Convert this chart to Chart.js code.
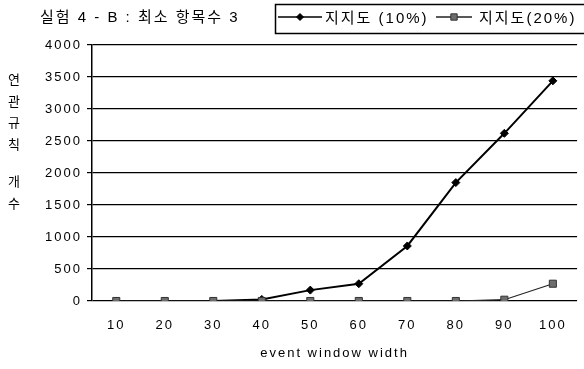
<!DOCTYPE html>
<html>
<head>
<meta charset="utf-8">
<script src="https://cdn.jsdelivr.net/npm/chart.js@4.4.1/dist/chart.umd.min.js"></script>
<style>
  html, body { margin: 0; padding: 0; background: #fff; }
  #wrap { width: 584px; height: 369px; }
</style>
</head>
<body>
<div id="wrap"><canvas id="c" width="584" height="369"></canvas></div>
<script>
// event window width categories
const windowWidths = ['10', '20', '30', '40', '50', '60', '70', '80', '90', '100'];
// number of association rules for each minimum support
const support10 = [0, 0, 0, 25, 170, 270, 860, 1850, 2620, 3440];
const support20 = [0, 0, 0, 0, 0, 0, 0, 0, 20, 270];
const seriesNames = ['지지도 (10%)', '지지도(20%)'];
const yTicks = [0, 500, 1000, 1500, 2000, 2500, 3000, 3500, 4000];
const chartTitle = '실험 4 - B : 최소 항목수 3';
const yTitleChars = ['연', '관', '규', '칙', '', '개', '수'];
const xTitle = 'event window width';

const FONT = '"Liberation Sans", "Noto Sans CJK KR", Arial, sans-serif';
const SPACING = '2px';

// wide glyph spacing for every label on the canvas
const spacingPlugin = {
  id: 'spacing',
  beforeUpdate(chart) { chart.ctx.letterSpacing = SPACING; },
  beforeDraw(chart) { chart.ctx.letterSpacing = SPACING; }
};

// title, boxed legend and stacked vertical y title
const decorPlugin = {
  id: 'decor',
  afterDraw(chart) {
    const ctx = chart.ctx;
    ctx.save();
    ctx.letterSpacing = SPACING;
    ctx.fillStyle = '#000';

    // chart title
    ctx.font = '15px ' + FONT;
    ctx.textAlign = 'left';
    ctx.textBaseline = 'middle';
    ctx.fillText(chartTitle, 40, 18);

    // legend box
    ctx.strokeStyle = '#000';
    ctx.lineWidth = 1.5;
    ctx.strokeRect(275.5, 4.5, 320, 29);

    const ds = chart.data.datasets;
    const items = [
      { x0: 278, x1: 322, tx: 325, d: ds[0] },
      { x0: 436, x1: 472, tx: 479, d: ds[1] }
    ];
    items.forEach(it => {
      const ly = 17;
      ctx.strokeStyle = it.d.borderColor;
      ctx.lineWidth = 1.5;
      ctx.beginPath();
      ctx.moveTo(it.x0, ly);
      ctx.lineTo(it.x1, ly);
      ctx.stroke();
      ctx.fillStyle = it.d.pointBackgroundColor;
      ctx.strokeStyle = it.d.pointBorderColor;
      ctx.lineWidth = 1;
      Chart.helpers.drawPoint(ctx, {
        pointStyle: it.d.pointStyle,
        radius: it.d.pointRadius - 0.5,
        rotation: 0,
        borderWidth: 1
      }, (it.x0 + it.x1) / 2, ly);
      ctx.fillStyle = '#000';
      ctx.font = '15px ' + FONT;
      ctx.textAlign = 'left';
      ctx.textBaseline = 'middle';
      ctx.fillText(it.d.label, it.tx, 19);
    });

    // stacked y-axis title
    ctx.font = '13px ' + FONT;
    ctx.textAlign = 'center';
    ctx.textBaseline = 'middle';
    ctx.letterSpacing = '0px';
    const ys = [80, 102, 123, 145, 165, 182, 204];
    yTitleChars.forEach((ch, i) => {
      if (ch) ctx.fillText(ch, 14, ys[i]);
    });
    ctx.restore();
  }
};

new Chart(document.getElementById('c'), {
  type: 'line',
  data: {
    labels: windowWidths,
    datasets: [
      {
        label: seriesNames[0],
        data: support10,
        borderColor: '#000',
        borderWidth: 2,
        pointStyle: 'rectRot',
        pointRadius: 4,
        pointBackgroundColor: '#000',
        pointBorderColor: '#000',
        pointBorderWidth: 1,
        tension: 0,
        order: 2
      },
      {
        label: seriesNames[1],
        data: support20,
        borderColor: '#222',
        borderWidth: 1.2,
        pointStyle: 'rect',
        pointRadius: 5,
        pointBackgroundColor: '#6e6e6e',
        pointBorderColor: '#333',
        pointBorderWidth: 1,
        tension: 0,
        order: 1
      }
    ]
  },
  options: {
    responsive: false,
    animation: false,
    devicePixelRatio: 1,
    layout: { padding: { top: 45, right: 2, left: 0, bottom: 0 } },
    plugins: {
      legend: { display: false },
      title: { display: false },
      tooltip: { enabled: false }
    },
    scales: {
      x: {
        offset: true,
        grid: { display: false, drawTicks: false, tickLength: 0, offset: true },
        border: { display: false },
        ticks: {
          color: '#000',
          font: { family: FONT, size: 13 },
          padding: 17,
          maxRotation: 0
        },
        title: {
          display: true,
          text: xTitle,
          color: '#000',
          font: { family: FONT, size: 13 },
          padding: { top: 0, bottom: 8 }
        },
        afterFit(scale) { scale.height = 68; }
      },
      y: {
        min: 0,
        max: 4000,
        afterBuildTicks(scale) { scale.ticks = yTicks.map(v => ({ value: v })); },
        grid: {
          color: '#000',
          lineWidth: 1.2,
          drawTicks: true,
          tickLength: 5,
          tickColor: '#000'
        },
        border: { display: true, color: '#000', width: 1.5 },
        ticks: {
          color: '#000',
          font: { family: FONT, size: 13 },
          padding: 5,
          callback: v => String(v)
        },
        afterFit(scale) { scale.width = 92; }
      }
    }
  },
  plugins: [spacingPlugin, decorPlugin]
});
</script>
</body>
</html>
